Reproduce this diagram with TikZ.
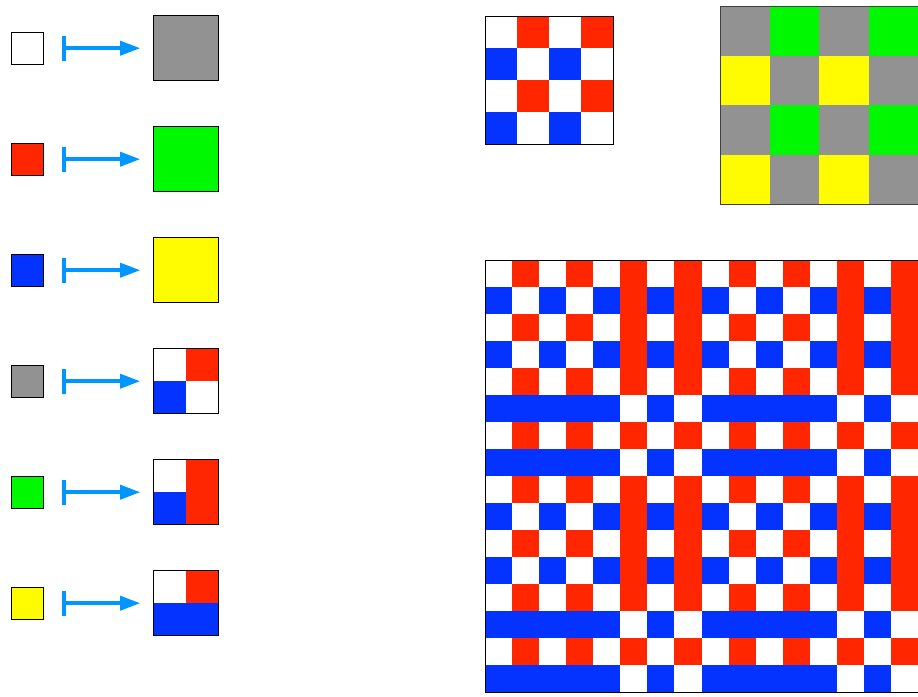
\documentclass[tikz,border=0pt]{standalone}
\usetikzlibrary{arrows.meta}
\definecolor{cred}{HTML}{FF2600}
\definecolor{cblue}{HTML}{0433FF}
\definecolor{cgreen}{HTML}{00F900}
\definecolor{cyellow}{HTML}{FFFB00}
\definecolor{cgray}{HTML}{929292}
\definecolor{carrow}{HTML}{0096FF}
\tikzset{
  smallsq/.style={draw=black, line width=0.8pt, minimum size=32pt, inner sep=0pt},
  bigsq/.style={line width=0.8pt, minimum size=64pt, inner sep=0pt},
  gridframe/.style={draw=black, line width=0.8pt, inner sep=0pt, anchor=north west},
  mapsarrow/.style={draw=carrow, line width=3.5pt, {Bar[width=25pt]}-{Triangle[length=20pt,width=14pt]}, shorten <=18.5pt, shorten >=13.6pt}
}
\begin{document}
\begin{tikzpicture}[x=1pt,y=-1pt]
\useasboundingbox (0,0) rectangle (918,696);
% ---------- left column: substitution rules ----------
\node[smallsq, fill=white]   (s1) at (27.5,48.2) {};
\node[smallsq, fill=cred]    (s2) at (27.5,159.2) {};
\node[smallsq, fill=cblue]   (s3) at (27.5,270.2) {};
\node[smallsq, fill=cgray]   (s4) at (27.5,381.2) {};
\node[smallsq, fill=cgreen]  (s5) at (27.5,492.2) {};
\node[smallsq, fill=cyellow] (s6) at (27.5,603.2) {};
\node[bigsq, fill=cgray]   (t1) at (186.2,48.2) {};
\node[bigsq, fill=cgreen]  (t2) at (186.2,159.2) {};
\node[bigsq, fill=cyellow] (t3) at (186.2,270.2) {};
\node[bigsq, fill=white]   (t4) at (186.2,381.2) {};
\node[bigsq, fill=white]   (t5) at (186.2,492.2) {};
\node[bigsq, fill=white]   (t6) at (186.2,603.2) {};
% quadrants
\fill[cred]  (t4.north) rectangle (t4.east);
\fill[cblue] (t4.west) rectangle (t4.south);
\fill[cred]  (t5.north) rectangle (t5.south east);
\fill[cblue] (t5.west) rectangle (t5.south);
\fill[cred]  (t6.north) rectangle (t6.east);
\fill[cblue] (t6.west) rectangle (t6.south east);
\foreach \t in {t1,t2,t3,t4,t5,t6}{
  \draw[line width=0.8pt] (\t.south west) rectangle (\t.north east);
}
\foreach \i in {1,...,6}{
  \draw[mapsarrow] (s\i.east) -- (t\i.west);
}
% ---------- top middle 4x4 ----------
\foreach \r in {0,...,3}{
  \foreach \c in {0,...,3}{
    \pgfmathtruncatemacro{\re}{mod(\r,2)}
    \pgfmathtruncatemacro{\ce}{mod(\c,2)}
    \ifnum\re=0 \ifnum\ce=1 \fill[cred] ({485+\c*32},{16+\r*32}) rectangle +(32,32);\fi\fi
    \ifnum\re=1 \ifnum\ce=0 \fill[cblue] ({485+\c*32},{16+\r*32}) rectangle +(32,32);\fi\fi
  }
}
\node[gridframe, minimum size=128pt] (tm) at (485,16) {};
% ---------- top right 4x4 ----------
\foreach \r in {0,...,3}{
  \foreach \c in {0,...,3}{
    \pgfmathtruncatemacro{\re}{mod(\r,2)}
    \pgfmathtruncatemacro{\ce}{mod(\c,2)}
    \pgfmathtruncatemacro{\k}{\re==0 ? (\ce==0 ? 0 : 1) : (\ce==0 ? 2 : 0)}
    \ifnum\k=0 \fill[cgray] ({720+\c*49.5},{6+\r*49.5}) rectangle +(49.5,49.5);\fi
    \ifnum\k=1 \fill[cgreen] ({720+\c*49.5},{6+\r*49.5}) rectangle +(49.5,49.5);\fi
    \ifnum\k=2 \fill[cyellow] ({720+\c*49.5},{6+\r*49.5}) rectangle +(49.5,49.5);\fi
  }
}
\node[gridframe, draw=black!75, minimum size=198pt] (tr) at (720,6) {};
% ---------- big 16x16 ----------
\foreach \r in {0,...,15}{
  \foreach \c in {0,...,15}{
    \pgfmathtruncatemacro{\re}{mod(\r,2)}
    \pgfmathtruncatemacro{\ce}{mod(\c,2)}
    \pgfmathtruncatemacro{\rs}{mod(floor(\r/2),4)>1 ? 1 : 0}
    \pgfmathtruncatemacro{\cs}{mod(floor(\c/2),4)>1 ? 1 : 0}
    \pgfmathtruncatemacro{\k}{\re==0 ? (\ce==0 ? 0 : 1) : (\ce==0 ? 2 : (\rs==\cs ? 0 : (\cs==1 ? 1 : 2)))}
    \ifnum\k=1 \fill[cred] ({485+\c*27.0625},{260.3+\r*27}) rectangle +(27.0625,27);\fi
    \ifnum\k=2 \fill[cblue] ({485+\c*27.0625},{260.3+\r*27}) rectangle +(27.0625,27);\fi
  }
}
\node[gridframe, minimum width=433pt, minimum height=432pt] (bg) at (485,260.3) {};
\end{tikzpicture}
\end{document}
